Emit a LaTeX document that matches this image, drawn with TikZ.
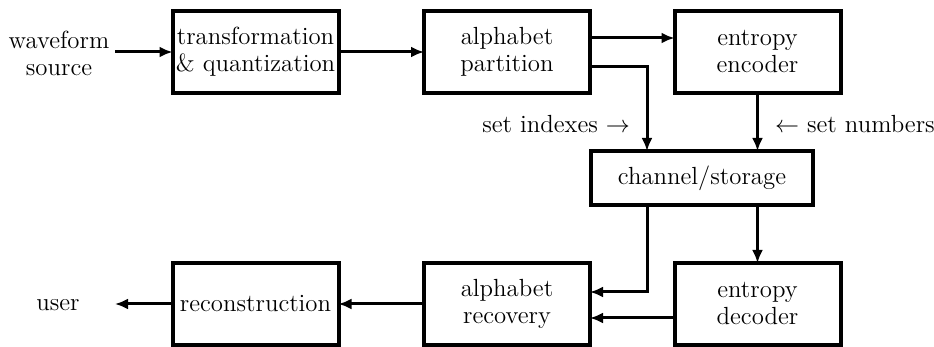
\documentclass[tikz,border=0pt]{standalone}
\usetikzlibrary{arrows.meta}
\begin{document}
\begin{tikzpicture}[x=0.5pt,y=-0.5pt,
  every node/.style={font=\fontsize{12.4}{13.5}\selectfont, inner sep=0pt, outer sep=0pt},
  blk/.style={draw, line width=2pt, minimum width=83pt, minimum height=41pt, align=center},
  lbl/.style={align=center},
  arr/.style={line width=1.5pt, -{Latex[length=6.5pt,width=5.5pt]}}]
\useasboundingbox (0,0) rectangle (934,347);

% top row: coder chain
\node[blk] (tq) at (255.5,52) {transformation\\\& quantization};
\node[blk] (ap) at (507,52) {alphabet\\partition};
\node[blk] (ee) at (757.5,52) {entropy\\encoder};

% channel
\node[blk, minimum width=111pt, minimum height=27pt] (cs) at (702,178) {channel/storage};

% bottom row: decoder chain
\node[blk] (rc) at (255.5,304) {reconstruction};
\node[blk] (ar) at (507,304) {alphabet\\recovery};
\node[blk] (ed) at (757.5,304) {entropy\\decoder};

% input / output labels
\node[lbl] (src) at (59,53) {waveform\\source};
\node[lbl] (usr) at (58,305) {user};
\coordinate (srcend) at (115,52);
\coordinate (usrend) at (115,304);

% signal labels
\node[anchor=east] (idx) at (630,124) {set indexes $\rightarrow$};
\node[anchor=west] (num) at (775,124) {$\leftarrow$ set numbers};

% connectors
\draw[arr] (srcend) -- (tq.west);
\draw[arr] (tq.east) -- (ap.west);
\draw[arr] ([yshift=7pt]ap.east) -- ([yshift=7pt]ee.west);
\draw[arr] ([yshift=-7.5pt]ap.east) -| ([xshift=-27.5pt]cs.north);
\draw[arr] (ee.south) -- (ee.south |- cs.north);
\draw[arr] (ed.north |- cs.south) -- (ed.north);
\draw[arr] ([xshift=-27.5pt]cs.south) |- ([yshift=6pt]ar.east);
\draw[arr] ([yshift=-7pt]ed.west) -- ([yshift=-7pt]ar.east);
\draw[arr] (ar.west) -- (rc.east);
\draw[arr] (rc.west) -- (usrend);
\end{tikzpicture}
\end{document}
